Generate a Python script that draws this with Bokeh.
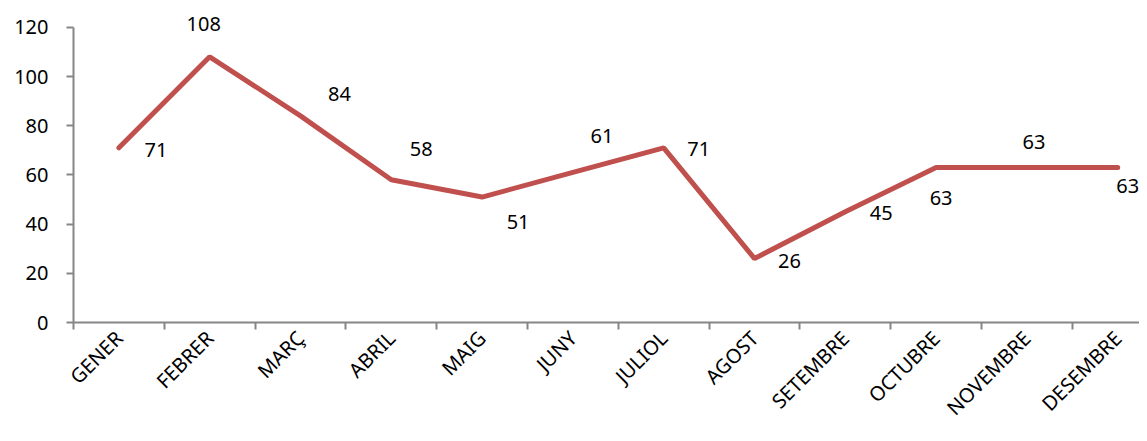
from math import pi
from bokeh.plotting import figure
from bokeh.models import ColumnDataSource, FixedTicker, Range1d
from bokeh.core.properties import value
from bokeh.embed import file_html
from bokeh.resources import INLINE

months = ["GENER", "FEBRER", "MARÇ", "ABRIL", "MAIG", "JUNY", "JULIOL",
          "AGOST", "SETEMBRE", "OCTUBRE", "NOVEMBRE", "DESEMBRE"]
counts = [71, 108, 84, 58, 51, 61, 71, 26, 45, 63, 63, 63]
y_ticks = [0, 20, 40, 60, 80, 100, 120]

# label placement offsets (screen pixels, +y = down), styling only
label_dx = [37, -6, 39, 30, 36, 29, 35, 35, 36, 5, 7, 10]
label_dy = [2, -33, -22, -31, 25, -36, 1, 2, 1, 30, -26, 18]

FONT = "Noto Sans"
LINE = "#c0504d"
AXIS = "#868686"

idx = list(range(len(months)))
src = ColumnDataSource(dict(
    x=idx, y=counts, lbl=[str(v) for v in counts],
    dx=label_dx, dy=label_dy,
))

p = figure(width=1139, height=433, output_backend="svg", toolbar_location=None,
           x_range=Range1d(-0.5, 11.24), y_range=Range1d(0, 128.05),
           min_border_left=73, min_border_top=7, min_border_bottom=108,
           min_border_right=0)
p.outline_line_color = None
p.grid.visible = False

p.line("x", "y", source=src, line_width=5, line_color=LINE, line_cap="round")
p.text("x", "y", text="lbl", source=src, x_offset="dx", y_offset="dy",
       text_align="center", text_baseline="middle", text_font=value(FONT),
       text_font_size="20px", text_color="black")

# x axis
p.xaxis.ticker = FixedTicker(ticks=idx, minor_ticks=[i - 0.5 for i in range(13)])
p.xaxis.major_label_overrides = {i: m for i, m in enumerate(months)}
p.xaxis.major_label_orientation = pi / 4
p.xaxis.major_tick_out = 0
p.xaxis.major_tick_in = 0
p.xaxis.minor_tick_out = 7
p.xaxis.minor_tick_in = 0
p.xaxis.minor_tick_line_color = AXIS
p.xaxis.minor_tick_line_width = 2
p.xaxis.axis_line_color = AXIS
p.xaxis.axis_line_width = 2
p.xaxis.major_label_text_font = FONT
p.xaxis.major_label_text_font_size = "20px"
p.xaxis.major_label_text_color = "black"
p.xaxis.major_label_standoff = 5

# y axis
p.yaxis.ticker = FixedTicker(ticks=y_ticks)
p.yaxis.bounds = (0, 120)
p.yaxis.major_tick_out = 7
p.yaxis.major_tick_in = 0
p.yaxis.minor_tick_out = 0
p.yaxis.minor_tick_in = 0
p.yaxis.major_tick_line_color = AXIS
p.yaxis.major_tick_line_width = 2
p.yaxis.axis_line_color = AXIS
p.yaxis.axis_line_width = 2
p.yaxis.major_label_text_font = FONT
p.yaxis.major_label_text_font_size = "20px"
p.yaxis.major_label_text_color = "black"
p.yaxis.major_label_standoff = 18

open("out.html", "w").write(file_html(p, INLINE))
